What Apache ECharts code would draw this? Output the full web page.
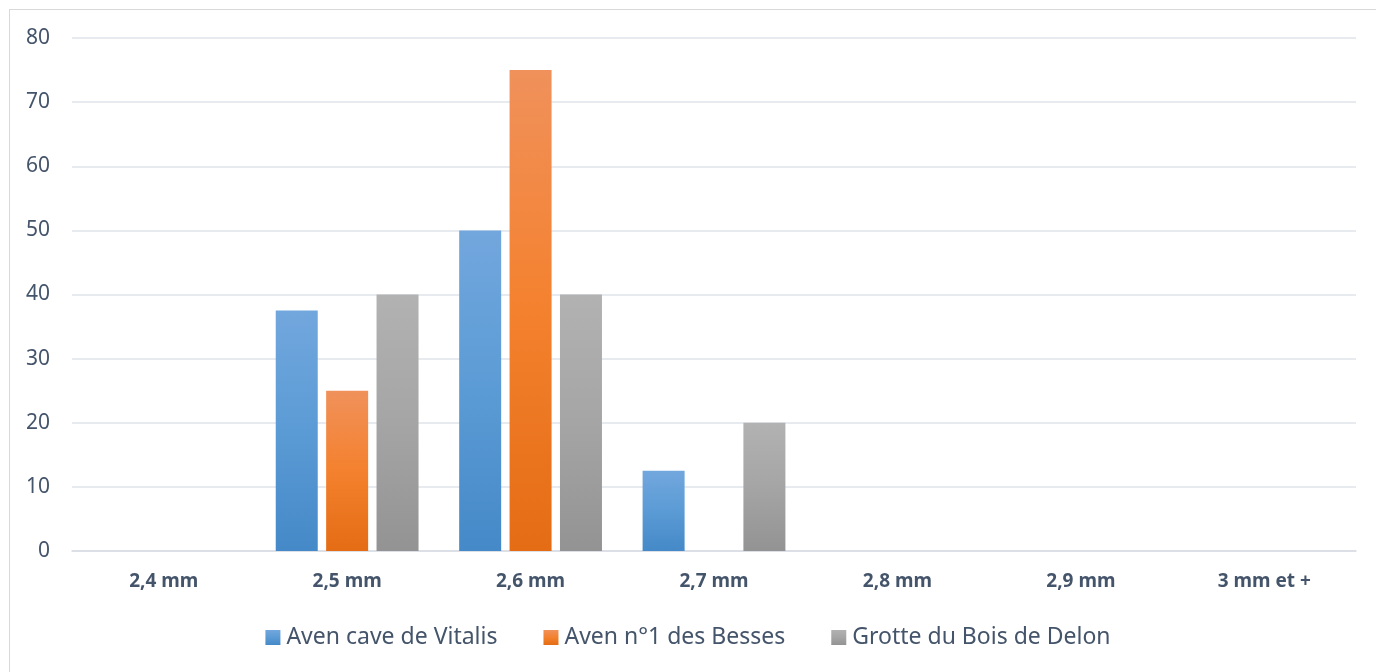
<!DOCTYPE html>
<html>
<head>
<meta charset="utf-8">
<script src="https://cdn.jsdelivr.net/npm/echarts@6/dist/echarts.min.js"></script>
<style>
  html, body { margin: 0; padding: 0; background: #fff; }
  #frame { position: absolute; left: 9px; top: 9px; width: 1380px; height: 680px; border: 1px solid #d9d9d9; box-sizing: border-box; }
  #my-charts { position: absolute; left: 0; top: 0; width: 1376px; height: 672px; }
</style>
</head>
<body>
<div id="frame"></div>
<div id="my-charts"></div>
<script>
// catégories (taille) et valeurs (%)
var categories = ['2,4 mm', '2,5 mm', '2,6 mm', '2,7 mm', '2,8 mm', '2,9 mm', '3 mm et +']
var seriesNames = ['Aven cave de Vitalis', 'Aven n°1 des Besses', 'Grotte du Bois de Delon']
var vitalis = [0, 37.5, 50, 12.5, 0, 0, 0]
var besses = [0, 25, 75, 0, 0, 0, 0]
var delon = [0, 40, 40, 20, 0, 0, 0]
var yTicks = [0, 10, 20, 30, 40, 50, 60, 70, 80]

var textColor = '#44546a'
var font = '"Noto Sans", sans-serif'

function grad(top, mid, bottom) {
  return new echarts.graphic.LinearGradient(0, 0, 0, 1, [
    { offset: 0, color: top },
    { offset: 0.5, color: mid },
    { offset: 1, color: bottom }
  ])
}
var colors = [
  grad('#72a7dd', '#5b9bd5', '#4589c8'),
  grad('#f0915b', '#f4812e', '#e46c14'),
  grad('#b2b2b2', '#a5a5a5', '#939393')
]

var myChart = echarts.init(document.getElementById('my-charts'))

var option = {
  animation: false,
  grid: { left: 72, right: 20, top: 38, bottom: 121 },
  legend: {
    top: 621,
    left: 'center',
    itemWidth: 15,
    itemHeight: 15,
    itemGap: 46,
    icon: 'rect',
    textStyle: { color: textColor, fontSize: 23, fontFamily: font, padding: [0, 0, 0, 1] },
    data: seriesNames.map(function (n, i) {
      return { name: n, itemStyle: { color: colors[i] } }
    })
  },
  xAxis: {
    type: 'category',
    data: categories,
    axisLine: { lineStyle: { color: '#d9dde3', width: 1.5 } },
    axisTick: { show: false },
    axisLabel: { color: textColor, fontSize: 19, fontWeight: 'bold', fontFamily: font, margin: 21 }
  },
  yAxis: {
    type: 'value',
    min: 0,
    max: 80,
    interval: 10,
    axisLine: { show: false },
    axisTick: { show: false },
    splitLine: { lineStyle: { color: '#dfe3e8', width: 1.5 } },
    axisLabel: {
      color: textColor, fontSize: 21, fontFamily: font, margin: 22,
      formatter: function (v) { return yTicks.indexOf(v) >= 0 ? String(v) : '' }
    }
  },
  series: [vitalis, besses, delon].map(function (d, i) {
    return {
      name: seriesNames[i],
      type: 'bar',
      data: d,
      barWidth: 42,
      barGap: '20%',
      itemStyle: { color: colors[i] }
    }
  })
}

myChart.setOption(option)
</script>
</body>
</html>
